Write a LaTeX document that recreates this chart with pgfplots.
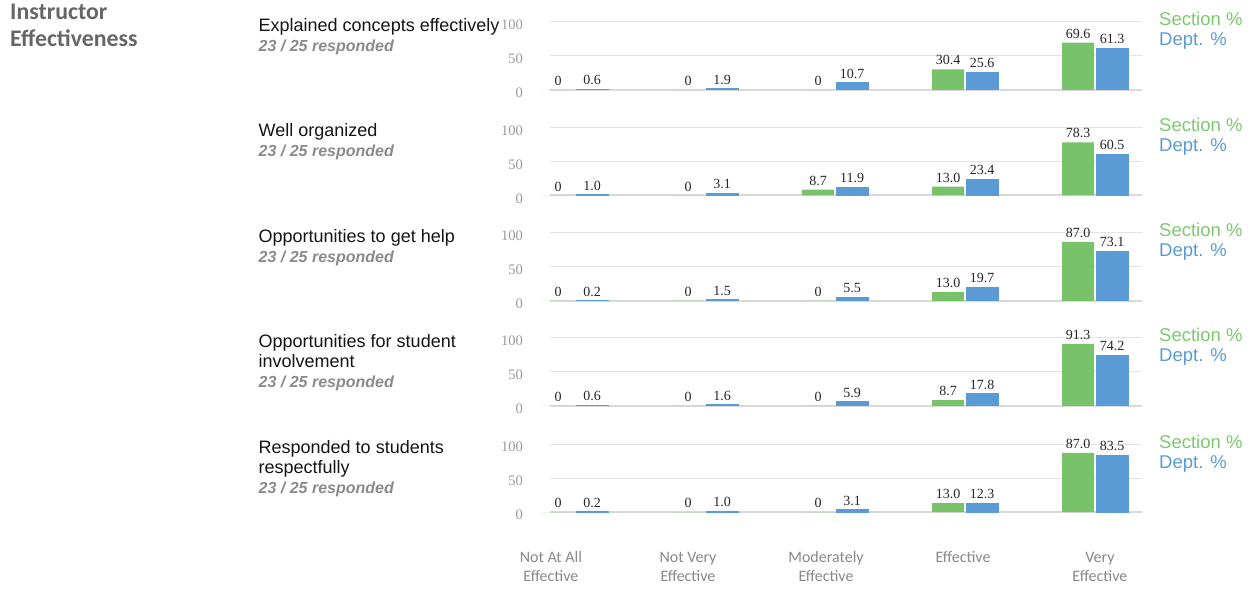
\documentclass[border=0pt]{standalone}
\usepackage{pgfplots}
\pgfplotsset{compat=1.18}
\usepackage{pgfplotstable}
\usepackage{fontspec}
\setmainfont{Liberation Serif}
\newfontfamily\arial{Liberation Sans}
\newfontfamily\carlito{Carlito}
\definecolor{secg}{HTML}{78C36A}
\definecolor{depb}{HTML}{5A9BD5}
\definecolor{secgt}{HTML}{7DC86F}
\definecolor{gridc}{HTML}{E3E3E3}
\definecolor{basec}{HTML}{D9D9D9}
\definecolor{tickc}{HTML}{9A9A9A}
\definecolor{xlc}{HTML}{888888}
\definecolor{titc}{HTML}{666666}
\definecolor{respc}{HTML}{8A8A8A}

\pgfplotstableread{
x sec sl dep dl
0 0 0 0.6 0.6
1 0 0 1.9 1.9
2 0 0 10.7 10.7
3 30.4 30.4 25.6 25.6
4 69.6 69.6 61.3 61.3
}\rowA
\pgfplotstableread{
x sec sl dep dl
0 0 0 1.0 1.0
1 0 0 3.1 3.1
2 8.7 8.7 11.9 11.9
3 13.0 13.0 23.4 23.4
4 78.3 78.3 60.5 60.5
}\rowB
\pgfplotstableread{
x sec sl dep dl
0 0 0 0.2 0.2
1 0 0 1.5 1.5
2 0 0 5.5 5.5
3 13.0 13.0 19.7 19.7
4 87.0 87.0 73.1 73.1
}\rowC
\pgfplotstableread{
x sec sl dep dl
0 0 0 0.6 0.6
1 0 0 1.6 1.6
2 0 0 5.9 5.9
3 8.7 8.7 17.8 17.8
4 91.3 91.3 74.2 74.2
}\rowD
\pgfplotstableread{
x sec sl dep dl
0 0 0 0.2 0.2
1 0 0 1.0 1.0
2 0 0 3.1 3.1
3 13.0 13.0 12.3 12.3
4 87.0 87.0 83.5 83.5
}\rowE

\pgfplotsset{
 rowax/.style={
  width=592pt, height=68pt, scale only axis,
  xmin=-0.1923, xmax=4.3615, ymin=0, ymax=100,
  ytick={0,50,100}, xtick=\empty,
  axis x line*=bottom, axis y line*=left,
  x axis line style={basec, line width=2pt, -},
  y axis line style={draw=none},
  major tick length=0pt,
  ymajorgrids, grid style={gridc, line width=1pt},
  /pgf/number format/assume math mode=true,
  yticklabel style={font=\fontsize{14.5}{16}\selectfont, text=tickc, inner sep=0pt, anchor=east, xshift=-27pt, yshift=-3pt},
  ybar=2pt, bar width=32pt,
  clip=false,
  nodes near coords, point meta=explicit symbolic,
  every node near coord/.append style={font=\fontsize{14}{15}\selectfont, text=black!85, inner sep=0pt, yshift=4pt, anchor=south},
 },
 secplot/.style={fill=secg, draw=none},
 depplot/.style={fill=depb, draw=depb, line width=1pt},
}

\newcommand{\legnodes}{%
  \node[anchor=base west, inner sep=0pt, font=\arial\fontsize{18.5}{20}\selectfont, text=secgt] at (rel axis cs:1,1) [xshift=17pt, yshift=-4pt] {Section \%};
  \node[anchor=base west, inner sep=0pt, font=\arial\fontsize{18.5}{20}\selectfont, text=depb] at (rel axis cs:1,1) [xshift=17pt, yshift=-24pt] {Dept. \%};
}

\begin{document}
\begin{tikzpicture}[x=1pt,y=1pt]
\useasboundingbox (0,0) rectangle (1251,592);

% title
\node[anchor=base west, inner sep=0pt, font=\carlito\bfseries\fontsize{23.8}{26}\selectfont, text=titc] at (10,572.7) {Instructor};
\node[anchor=base west, inner sep=0pt, font=\carlito\bfseries\fontsize{23.8}{26}\selectfont, text=titc] at (10,545.3) {Effectiveness};

% row labels
\tikzset{qtext/.style={anchor=base west, inner sep=0pt, font=\arial\fontsize{18}{20}\selectfont, text=black!92},
         rtext/.style={anchor=base west, inner sep=0pt, font=\arial\bfseries\itshape\fontsize{16}{18}\selectfont, text=respc}}
\node[qtext] at (258.5,560.5) {Explained concepts effectively};
\node[rtext] at (258.5,540.5) {23 / 25 responded};
\node[qtext] at (258.5,455) {Well organized};
\node[rtext] at (258.5,435) {23 / 25 responded};
\node[qtext] at (258.5,349.5) {Opportunities to get help};
\node[rtext] at (258.5,329.5) {23 / 25 responded};
\node[qtext] at (258.5,244.5) {Opportunities for student};
\node[qtext] at (258.5,224.5) {involvement};
\node[rtext] at (258.5,204.5) {23 / 25 responded};
\node[qtext] at (258.5,138.5) {Responded to students};
\node[qtext] at (258.5,118.5) {respectfully};
\node[rtext] at (258.5,98.5) {23 / 25 responded};

\begin{axis}[rowax, at={(550pt,502pt)}, anchor=south west]
\addplot[secplot] table[x=x, y=sec, meta=sl] {\rowA};
\addplot[depplot] table[x=x, y=dep, meta=dl] {\rowA};
\legnodes
\end{axis}

\begin{axis}[rowax, at={(550pt,396.5pt)}, anchor=south west]
\addplot[secplot] table[x=x, y=sec, meta=sl] {\rowB};
\addplot[depplot] table[x=x, y=dep, meta=dl] {\rowB};
\legnodes
\end{axis}

\begin{axis}[rowax, at={(550pt,291pt)}, anchor=south west]
\addplot[secplot] table[x=x, y=sec, meta=sl] {\rowC};
\addplot[depplot] table[x=x, y=dep, meta=dl] {\rowC};
\legnodes
\end{axis}

\begin{axis}[rowax, at={(550pt,186pt)}, anchor=south west]
\addplot[secplot] table[x=x, y=sec, meta=sl] {\rowD};
\addplot[depplot] table[x=x, y=dep, meta=dl] {\rowD};
\legnodes
\end{axis}

\begin{axis}[rowax, at={(550pt,80pt)}, anchor=south west,
  xtick={-0.185,0.869,1.931,2.985,4.038},
  xticklabels={{\strut Not At All\\Effective},{\strut Not Very\\Effective},{\strut Moderately\\Effective},{\strut Effective},{\strut Very\\Effective}},
  xticklabel style={font=\carlito\fontsize{16}{19}\selectfont, text=xlc, align=center, anchor=north, inner sep=0pt, yshift=-36.7pt}]
\addplot[secplot] table[x=x, y=sec, meta=sl] {\rowE};
\addplot[depplot] table[x=x, y=dep, meta=dl] {\rowE};
\legnodes
\end{axis}
\end{tikzpicture}
\end{document}
